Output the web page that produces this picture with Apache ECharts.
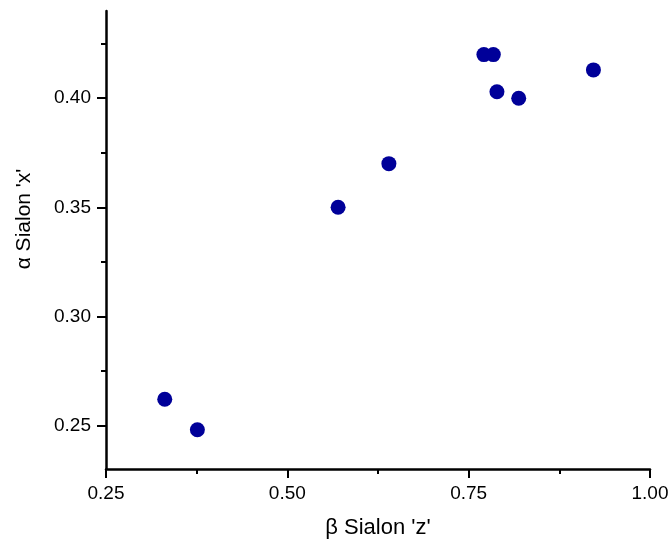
<!DOCTYPE html>
<html>
<head>
<meta charset="utf-8">
<script src="https://cdn.jsdelivr.net/npm/echarts@6/dist/echarts.min.js"></script>
<style>
html,body{margin:0;padding:0;background:#fff;}
#chart{width:672px;height:544px;}
</style>
</head>
<body>
<div id="chart"></div>
<script>
const betaZ = [0.331, 0.376, 0.570, 0.640, 0.771, 0.784, 0.789, 0.819, 0.922];
const alphaX = [0.262, 0.248, 0.350, 0.370, 0.420, 0.420, 0.403, 0.400, 0.413];
const yMajorTicks = [0.25, 0.30, 0.35, 0.40];
const yMinorTicks = [0.275, 0.325, 0.375, 0.425];
const xAxisTitle = "β Sialon 'z'";
const yAxisTitle = "α Sialon 'x'";

const points = betaZ.map((v, i) => [v, alphaX[i]]);
const font = "'Liberation Sans', Arial, sans-serif";
const axisColor = '#000';

const chart = echarts.init(document.getElementById('chart'));
chart.setOption({
  backgroundColor: '#fff',
  animation: false,
  grid: { left: 106, right: 22, top: 11, bottom: 75, containLabel: false },
  xAxis: {
    type: 'value',
    min: 0.25, max: 1.0, interval: 0.25,
    name: xAxisTitle,
    nameLocation: 'middle',
    nameGap: 48,
    nameTextStyle: { fontFamily: font, fontSize: 22, color: '#000' },
    axisLine: { show: true, onZero: false, lineStyle: { color: axisColor, width: 2.5 } },
    axisTick: { show: true, inside: false, length: 9, lineStyle: { color: axisColor, width: 2 } },
    minorTick: { show: true, splitNumber: 2, length: 5, lineStyle: { color: axisColor, width: 2 } },
    axisLabel: { fontFamily: font, fontSize: 19, color: '#000', margin: 15,
      formatter: v => v.toFixed(2) },
    splitLine: { show: false }
  },
  yAxis: [{
    type: 'value',
    position: 'left',
    min: 0.23, max: 0.44,
    name: yAxisTitle,
    nameLocation: 'middle',
    nameGap: 71,
    nameRotate: 90,
    nameTextStyle: { fontFamily: font, fontSize: 21, color: '#000', padding: [0, 0, 0, 42] },
    axisLine: { show: true, onZero: false, lineStyle: { color: axisColor, width: 2.5 } },
    axisTick: { show: true, inside: false, length: 9, customValues: yMajorTicks,
      lineStyle: { color: axisColor, width: 2 } },
    axisLabel: { fontFamily: font, fontSize: 19, color: '#000', margin: 15,
      customValues: yMajorTicks, formatter: v => Number(v).toFixed(2) },
    splitLine: { show: false }
  }, {
    type: 'value',
    position: 'left',
    offset: 0,
    min: 0.23, max: 0.44,
    axisLine: { show: false },
    axisTick: { show: true, inside: false, length: 5, customValues: yMinorTicks,
      lineStyle: { color: axisColor, width: 2 } },
    axisLabel: { show: false },
    splitLine: { show: false }
  }],
  series: [{
    type: 'scatter',
    yAxisIndex: 0,
    data: points,
    symbol: 'circle',
    symbolSize: 15,
    itemStyle: { color: '#000099', opacity: 1 }
  }]
});
</script>
</body>
</html>
